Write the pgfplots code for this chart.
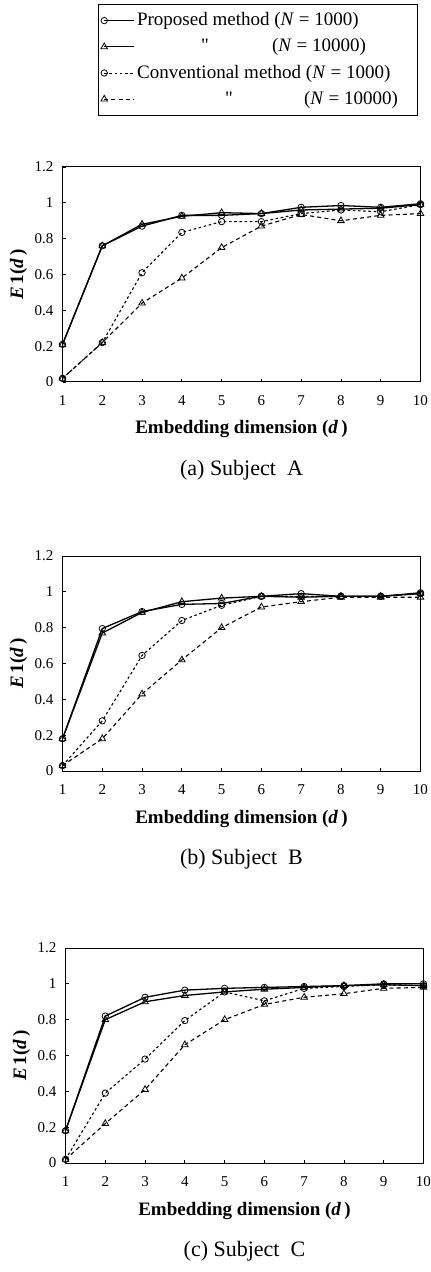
\documentclass[border=0pt]{standalone}
\usepackage{fontspec}
\setmainfont{Liberation Serif}
\newfontfamily\rawfont{Liberation Serif}[Ligatures=ResetAll]
\usepackage{pgfplots}
\pgfplotsset{compat=1.18}
\usepackage{pgfplotstable}

% d, proposed N=1000, proposed N=10000, conventional N=1000, conventional N=10000
\pgfplotstableread{
d  pc    pt    cc    ct
1  0.21  0.21  0.02  0.02
2  0.76  0.76  0.22  0.22
3  0.87  0.88  0.61  0.44
4  0.93  0.925 0.835 0.58
5  0.93  0.945 0.895 0.75
6  0.94  0.94  0.895 0.87
7  0.975 0.96  0.94  0.935
8  0.985 0.965 0.96  0.90
9  0.975 0.97  0.95  0.93
10 0.995 0.99  0.99  0.94
}\subjA
\pgfplotstableread{
d  pc    pt    cc    ct
1  0.18  0.18  0.03  0.03
2  0.795 0.77  0.28  0.18
3  0.89  0.885 0.645 0.43
4  0.93  0.945 0.84  0.62
5  0.935 0.965 0.925 0.80
6  0.975 0.975 0.975 0.915
7  0.99  0.97  0.975 0.945
8  0.975 0.975 0.975 0.97
9  0.975 0.975 0.975 0.97
10 0.995 0.99  0.99  0.97
}\subjB
\pgfplotstableread{
d  pc    pt    cc    ct
1  0.18  0.18  0.02  0.02
2  0.82  0.80  0.39  0.22
3  0.925 0.90  0.58  0.41
4  0.965 0.935 0.795 0.66
5  0.975 0.955 0.955 0.80
6  0.98  0.97  0.905 0.885
7  0.985 0.98  0.975 0.925
8  0.99  0.99  0.985 0.945
9  1.0   0.995 0.995 0.975
10 1.0   0.99  0.99  0.98
}\subjC

\pgfplotsset{
  e1ax/.style={
    scale only axis, width=179pt, height=107.5pt,
    anchor=south west,
    xmin=1, xmax=10, ymin=0, ymax=1.2,
    xtick={1,...,10}, ytick={0,0.2,...,1.2},
    tick align=inside, major tick length=1.5pt,
    xtick pos=bottom, ytick pos=left,
    axis line style={line width=0.5pt},
    tick style={line width=0.4pt, black},
    clip=false,
    /pgf/number format/assume math mode=true,
    tick label style={font=\fontsize{7.5}{9}\selectfont},
    xticklabel style={anchor=center, yshift=-9.5pt},
    yticklabel style={xshift=-1pt},
    xlabel={\textbf{Embedding dimension (\textit{d}\,)}},
    ylabel={\textbf{\textit{E}\,1(\textit{d}\,)}},
    xlabel style={font=\fontsize{9.5}{11}\selectfont, at={(axis description cs:0.5,0)}, anchor=center, yshift=-23.75pt},
    ylabel style={font=\fontsize{9.5}{11}\selectfont, at={(axis description cs:-0.123,0.5)}, anchor=center},
    legend image code/.code={\draw[mark repeat=3,mark phase=1,#1,line width=0.45pt] plot coordinates {(0pt,0pt) (7.5pt,0pt) (15pt,0pt)};},
  },
  propc/.style={black, line width=0.65pt, mark=o, mark size=1.6pt, mark options={solid, fill=white, line width=0.4pt}},
  propt/.style={black, line width=0.65pt, mark=triangle, mark size=1.9pt, mark options={solid, fill=white, line width=0.4pt}},
  convc/.style={black, line width=0.55pt, dash pattern=on 1.3pt off 1.3pt, mark=o, mark size=1.6pt, mark options={solid, fill=white, line width=0.4pt}},
  convt/.style={black, line width=0.55pt, dash pattern=on 2pt off 1.6pt, mark=triangle, mark size=1.9pt, mark options={solid, fill=white, line width=0.4pt}},
}

\begin{document}
\begin{tikzpicture}
\useasboundingbox (0,0) rectangle (215.5pt,-636pt);

% (a) Subject A
\begin{axis}[e1ax, at={(31.25pt,-191pt)},
  legend style={at={(axis description cs:0.993,1.758)}, anchor=north east,
    font=\fontsize{9.5}{11}\selectfont, draw=black, line width=0.5pt,
    cells={anchor=west}, row sep=3pt, column sep=0pt,
    inner xsep=1pt, inner ysep=3pt,
    nodes={inner xsep=1.2pt, inner ysep=1pt}},
  legend cell align=left]
\addplot[propc] table[x=d, y=pc] {\subjA};
\addlegendentry{\makebox[138pt][l]{Proposed method (\textit{N} = 1000)}}
\addplot[propt] table[x=d, y=pt] {\subjA};
\addlegendentry{\makebox[138pt][l]{\hspace*{32pt}\rlap{\rawfont"}\hspace*{35.5pt}(\textit{N} = 10000)}}
\addplot[convc] table[x=d, y=cc] {\subjA};
\addlegendentry{\makebox[138pt][l]{Conventional method (\textit{N} = 1000)}}
\addplot[convt] table[x=d, y=ct] {\subjA};
\addlegendentry{\makebox[138pt][l]{\hspace*{44pt}\rlap{\rawfont"}\hspace*{39.5pt}(\textit{N} = 10000)}}
\node[font=\fontsize{11}{13}\selectfont] at (rel axis cs:0.5,0) [yshift=-44pt] {(a) Subject~~A};
\end{axis}

% (b) Subject B
\begin{axis}[e1ax, at={(31.25pt,-385.5pt)}]
\addplot[propc] table[x=d, y=pc] {\subjB};
\addplot[propt] table[x=d, y=pt] {\subjB};
\addplot[convc] table[x=d, y=cc] {\subjB};
\addplot[convt] table[x=d, y=ct] {\subjB};
\node[font=\fontsize{11}{13}\selectfont] at (rel axis cs:0.5,0) [yshift=-44pt] {(b) Subject~~B};
\end{axis}

% (c) Subject C
\begin{axis}[e1ax, at={(32.75pt,-581.5pt)}]
\addplot[propc] table[x=d, y=pc] {\subjC};
\addplot[propt] table[x=d, y=pt] {\subjC};
\addplot[convc] table[x=d, y=cc] {\subjC};
\addplot[convt] table[x=d, y=ct] {\subjC};
\node[font=\fontsize{11}{13}\selectfont] at (rel axis cs:0.5,0) [yshift=-44pt] {(c) Subject~~C};
\end{axis}
\end{tikzpicture}
\end{document}
